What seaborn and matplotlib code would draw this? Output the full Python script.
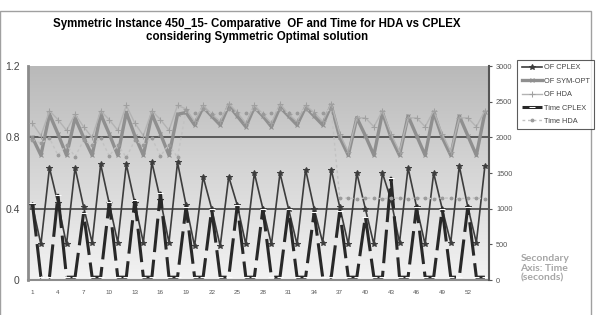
# ==========================================
# SYMMETRIC INSTANCE 450_15 - OF AND TIME
# ==========================================

import numpy as np
import pandas as pd
import matplotlib
matplotlib.use("Agg")
import matplotlib.pyplot as plt
import seaborn as sns
from matplotlib.colors import LinearSegmentedColormap
from matplotlib.patches import Rectangle

# ==========================================
# DATA
# ==========================================

instances = list(range(1, 55))
x_ticks = list(range(1, 55, 3))
x_tick_labels = [str(i) for i in x_ticks]

of_cplex = [
    0.42, 0.20, 0.63, 0.43, 0.20, 0.63, 0.41, 0.21, 0.65,
    0.43, 0.21, 0.65, 0.43, 0.21, 0.66, 0.45, 0.21, 0.66,
    0.42, 0.19, 0.58, 0.40, 0.19, 0.58, 0.42, 0.20, 0.60,
    0.40, 0.20, 0.60, 0.40, 0.20, 0.62, 0.40, 0.21, 0.62,
    0.41, 0.20, 0.60, 0.40, 0.20, 0.60, 0.45, 0.21, 0.63,
    0.41, 0.20, 0.60, 0.40, 0.21, 0.64, 0.41, 0.21, 0.64,
]

of_sym_opt = [
    0.80, 0.70, 0.93, 0.82, 0.70, 0.91, 0.80, 0.70, 0.93,
    0.82, 0.70, 0.94, 0.81, 0.70, 0.93, 0.82, 0.70, 0.93,
    0.94, 0.87, 0.97, 0.92, 0.87, 0.98, 0.92, 0.86, 0.97,
    0.92, 0.86, 0.97, 0.92, 0.87, 0.97, 0.92, 0.87, 0.98,
    0.80, 0.70, 0.91, 0.81, 0.70, 0.94, 0.80, 0.70, 0.92,
    0.81, 0.70, 0.94, 0.80, 0.70, 0.92, 0.81, 0.70, 0.94,
]

of_hda = [
    0.88, 0.81, 0.95, 0.90, 0.84, 0.93, 0.86, 0.80, 0.95,
    0.90, 0.84, 0.98, 0.88, 0.81, 0.95, 0.90, 0.84, 0.98,
    0.96, 0.89, 0.98, 0.93, 0.89, 0.99, 0.94, 0.88, 0.98,
    0.93, 0.88, 0.99, 0.93, 0.89, 0.98, 0.94, 0.89, 0.99,
    0.82, 0.72, 0.91, 0.91, 0.86, 0.95, 0.82, 0.72, 0.91,
    0.91, 0.86, 0.95, 0.82, 0.72, 0.91, 0.91, 0.86, 0.95,
]

time_cplex = [
    1080, 40, 40, 1190, 40, 40, 940, 40, 40,
    1090, 40, 40, 1120, 40, 40, 1220, 40, 40,
    1030, 40, 40, 990, 40, 40, 1050, 40, 40,
    1000, 40, 40, 990, 40, 40, 950, 40, 40,
    970, 40, 40, 890, 40, 40, 1430, 40, 40,
    1030, 40, 40, 1000, 40, 40, 1030, 40, 40,
]

time_hda = [
    1970, 1920, 1990, 1750, 1900, 1730, 1960, 1900, 1990,
    1740, 1900, 1720, 1960, 1900, 1990, 1740, 1900, 1720,
    2380, 2340, 2400, 2330, 2340, 2400, 2340, 2340, 2400,
    2330, 2340, 2400, 2340, 2340, 2400, 2330, 2340, 2400,
    1150, 1150, 1140, 1150, 1150, 1140, 1150, 1150, 1140,
    1150, 1150, 1140, 1150, 1150, 1140, 1150, 1150, 1140,
]

df = pd.DataFrame({
    "Instance": instances,
    "OF CPLEX": of_cplex,
    "OF SYM-OPT": of_sym_opt,
    "OF HDA": of_hda,
    "Time CPLEX": time_cplex,
    "Time HDA": time_hda,
})

# ==========================================
# FIGURE
# ==========================================

plt.rcParams["font.family"] = ["Liberation Sans", "DejaVu Sans"]

fig = plt.figure(figsize=(5.98, 3.15), dpi=100)
ax = fig.add_axes([0.047, 0.111, 0.771, 0.679])
ax2 = ax.twinx()

# gradient plot area
cmap = LinearSegmentedColormap.from_list("bg", ["#f3f3f3", "#b9b9b9"])
ax.imshow(
    np.linspace(0, 1, 256).reshape(-1, 1),
    extent=[0.5, 54.5, 0, 1.2],
    aspect="auto",
    origin="lower",
    cmap=cmap,
    zorder=0
)

for g in [0.4, 0.8]:
    ax.axhline(g, color="#4f4f4f", lw=1.3, zorder=1)

# ==========================================
# LINES - PRIMARY AXIS
# ==========================================

sns.lineplot(data=df, x="Instance", y="OF SYM-OPT", ax=ax,
             color="#8f8f8f", lw=2.4, marker="x", markersize=3,
             markeredgecolor="#8f8f8f", label="OF SYM-OPT",
             legend=False, zorder=3)

sns.lineplot(data=df, x="Instance", y="OF HDA", ax=ax,
             color="#b3b3b3", lw=1.0, marker="+", markersize=5,
             markeredgecolor="#a0a0a0", label="OF HDA",
             legend=False, zorder=4)

sns.lineplot(data=df, x="Instance", y="OF CPLEX", ax=ax,
             color="#3d3d3d", lw=1.2, marker="*", markersize=4,
             markeredgecolor="#3d3d3d", label="OF CPLEX",
             legend=False, zorder=5)

# ==========================================
# LINES - SECONDARY AXIS
# ==========================================

sns.lineplot(data=df, x="Instance", y="Time CPLEX", ax=ax2,
             color="#282828", lw=2.2, linestyle=(0, (11, 2.5)),
             marker="_", markersize=5, label="Time CPLEX",
             legend=False)

sns.lineplot(data=df, x="Instance", y="Time HDA", ax=ax2,
             color="#c2c2c2", lw=1.0, linestyle=(0, (2, 2)),
             marker="o", markersize=2, markeredgecolor="#9a9a9a",
             markerfacecolor="#9a9a9a", label="Time HDA",
             legend=False)

# ==========================================
# AXES
# ==========================================

ax.set_xlim(0.5, 54.5)
ax.set_ylim(0, 1.2)
ax.set_yticks([0, 0.4, 0.8, 1.2])
ax.set_yticklabels(["0", "0.4", "0.8", "1.2"])
ax.set_xticks(x_ticks)
ax.set_xticklabels(x_tick_labels)

ax2.set_ylim(0, 3000)
ax2.set_yticks(range(0, 3001, 500))

for a in [ax, ax2]:
    a.set_xlabel("")
    a.set_ylabel("")
    a.spines["top"].set_visible(False)

ax.spines["right"].set_visible(False)
ax.spines["left"].set_color("#8c8c8c")
ax.spines["left"].set_linewidth(2)
ax.spines["bottom"].set_color("#8c8c8c")
ax.spines["bottom"].set_linewidth(1.5)
ax2.spines["left"].set_visible(False)
ax2.spines["bottom"].set_visible(False)
ax2.spines["right"].set_color("#555555")
ax2.spines["right"].set_linewidth(1.5)

ax.tick_params(axis="y", length=0, pad=6, labelsize=7.5, labelcolor="#444444")
ax.tick_params(axis="x", length=0, pad=7, labelsize=4.5, labelcolor="#555555")
ax2.tick_params(axis="y", length=2, width=0.8, color="#555555", pad=3,
                labelsize=5.3, labelcolor="#555555")

# ==========================================
# TEXT & LEGEND
# ==========================================

fig.text(
    0.43, 0.903,
    "Symmetric Instance 450_15- Comparative  OF and Time for HDA vs CPLEX\n"
    "considering Symmetric Optimal solution",
    ha="center", va="center", fontsize=8.3, fontweight="bold",
    linespacing=1.1
)

fig.text(
    0.870, 0.195,
    "Secondary\nAxis: Time\n(seconds)",
    ha="left", va="top", fontsize=7.5, fontweight="bold",
    color="#a6a6a6", family="Lato", linespacing=1.15
)

h1, l1 = ax.get_legend_handles_labels()
h2, l2 = ax2.get_legend_handles_labels()
lookup = dict(zip(l1 + l2, h1 + h2))
order = ["OF CPLEX", "OF SYM-OPT", "OF HDA", "Time CPLEX", "Time HDA"]

leg = fig.legend(
    [lookup[k] for k in order], order,
    loc="upper left", bbox_to_anchor=(0.865, 0.81),
    fontsize=5.3, frameon=True, fancybox=False,
    edgecolor="#333333", borderpad=0.6, labelspacing=0.85,
    handlelength=2.7, handletextpad=0.3, borderaxespad=0
)
leg.get_frame().set_linewidth(0.8)
for t in leg.get_texts():
    t.set_color("#444444")

fig.add_artist(Rectangle(
    (0.0, -0.01), 591 / 598, 1.01 - 11 / 315,
    transform=fig.transFigure, fill=False,
    edgecolor="#a0a0a0", lw=1.0
))

fig.savefig("out.png", dpi=100)
